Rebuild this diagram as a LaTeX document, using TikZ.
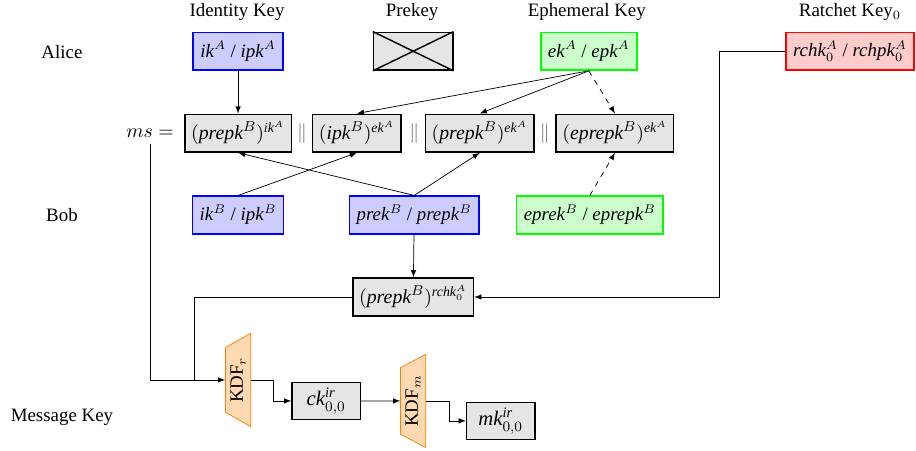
\documentclass[tikz,border=0pt]{standalone}
\usepackage{amsmath}
\usepackage{fontspec}
\setmainfont{Liberation Serif}
\usetikzlibrary{shapes.geometric}

\begin{document}
\begin{tikzpicture}[>=latex,
		every node/.style={font=\fontsize{10.5}{12.6}\selectfont},
		kbox/.style={draw=#1,fill=#1!20,thick,minimum height=21pt,inner xsep=4pt,inner ysep=3pt},
		vbox/.style={draw,fill=gray!20,thick,minimum height=21pt,inner xsep=4pt,inner ysep=3pt},
		dhbox/.style={vbox,font=\fontsize{11}{13.2}\selectfont,inner xsep=3.5pt},
		outbox/.style={vbox,font=\fontsize{11.5}{13.8}\selectfont,minimum width=38pt,minimum height=19.5pt},
		kdf/.style={trapezium,trapezium angle=60,trapezium stretches=true,draw=orange,fill=orange!30,rotate=90,minimum width=52pt,minimum height=14pt,inner sep=1pt}]
		\useasboundingbox (0,0) rectangle (17.89,-8.79);
		% column and row titles
		\node (tik) at (4.63,-0.23) {Identity Key};
		\node (tpk) at (8.05,-0.23) {Prekey};
		\node (tek) at (11.46,-0.23) {Ephemeral Key};
		\node (trk) at (16.60,-0.23) {Ratchet Key$_0$};
		\node (alice) at (1.21,-1.02) {Alice};
		\node (bob) at (1.21,-4.20) {Bob};
		\node (msgkey) at (1.21,-8.16) {Message Key};
		% Alice
		\node[kbox=blue] (ika) at (4.65,-1.00) {\textit{ik}$^A$ / \textit{ipk}$^A$};
		\node[vbox,minimum width=44pt] (pka) at (8.07,-1.00) {};
		\draw[thick] (pka.north west) -- (pka.south east) (pka.south west) -- (pka.north east);
		\node[kbox=green] (eka) at (11.50,-1.00) {\textit{ek}$^A$ / \textit{epk}$^A$};
		\node[kbox=red] (rka) at (16.60,-1.00) {\textit{rchk}$_0^A$ / \textit{rchpk}$_0^A$};
		% master secret
		\node (ms) at (2.93,-2.60) {$ms =$};
		\node[dhbox] (dh1) at (4.65,-2.60) {$(\textit{prepk}^B)^{\textit{ik}^A}$};
		\node[dhbox] (dh2) at (6.97,-2.60) {$(\textit{ipk}^B)^{\textit{ek}^A}$};
		\node[dhbox] (dh3) at (9.37,-2.60) {$(\textit{prepk}^B)^{\textit{ek}^A}$};
		\node[dhbox] (dh4) at (12.01,-2.60) {$(\textit{eprepk}^B)^{\textit{ek}^A}$};
		\node[text=black!60] (s1) at (5.90,-2.60) {$\|$};
		\node[text=black!60] (s2) at (8.09,-2.60) {$\|$};
		\node[text=black!60] (s3) at (10.64,-2.60) {$\|$};
		% Bob
		\node[kbox=blue] (ikb) at (4.65,-4.20) {\textit{ik}$^B$ / \textit{ipk}$^B$};
		\node[kbox=blue] (pkb) at (8.09,-4.20) {\textit{prek}$^B$ / \textit{prepk}$^B$};
		\node[kbox=green] (epkb) at (11.52,-4.20) {\textit{eprek}$^B$ / \textit{eprepk}$^B$};
		\node[dhbox] (rdh) at (8.07,-5.80) {$(\textit{prepk}^B)^{\textit{rchk}_0^A}$};
		% chains
		\coordinate (jn) at (3.79,-7.42);
		\node[kdf] (kdfr) at (4.65,-7.42) {KDF$_r$};
		\node[outbox] (ck) at (6.37,-7.83) {$\textit{ck}_{0,0}^{\textit{ir}}$};
		\node[kdf] (kdfm) at (8.07,-7.83) {KDF$_m$};
		\node[outbox] (mk) at (9.78,-8.22) {$\textit{mk}_{0,0}^{\textit{ir}}$};

		\draw[->] (ika) -- (dh1);
		\draw[->] (eka.south) -- (dh2.north);
		\draw[->] (eka.south) -- (dh3.north);
		\draw[->,dashed] (eka.south) -- (dh4.north);
		\draw[->] (ikb.north) -- (dh2.south);
		\draw[->] (pkb.north) -- (dh1.south);
		\draw[->] (pkb.north) -- (dh3.south);
		\draw[->,dashed] (epkb.north) -- (dh4.south);
		\draw[->] (pkb) -- (rdh);
		\draw[->] (rka.west) -- ++(-1.29,0) |- (rdh.east);
		\draw (rdh.west) -| (jn);
		\draw[->] (ms.south) |- (kdfr.north);
		\draw[->] (kdfr.south) -- ++(0.43,0) |- (ck.west);
		\draw[->] (ck) -- (kdfm.north);
		\draw[->] (kdfm.south) -- ++(0.45,0) |- (mk.west);
\end{tikzpicture}
\end{document}
